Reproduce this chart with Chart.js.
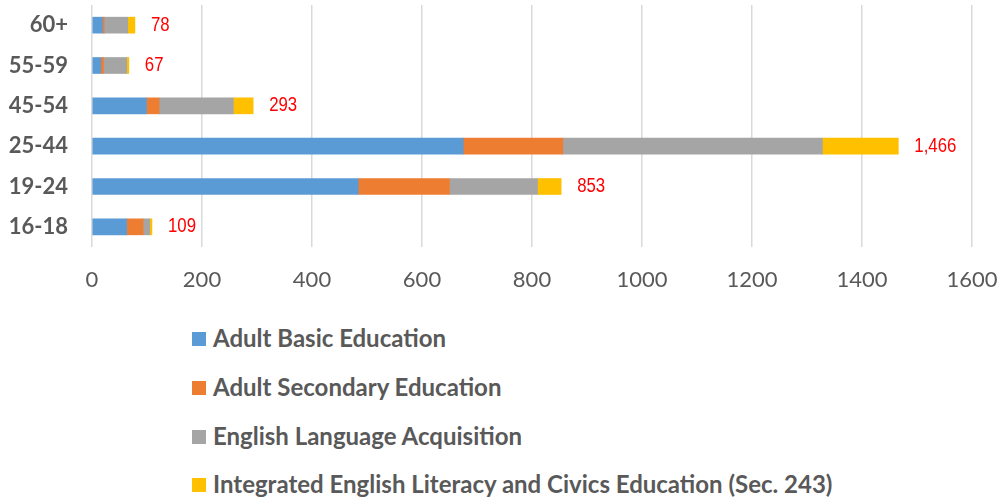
<!DOCTYPE html>
<html>
<head>
<meta charset="utf-8">
<script src="https://cdn.jsdelivr.net/npm/chart.js@4"></script>
<style>
  html, body { margin: 0; padding: 0; background: #fff; }
  #wrap { position: relative; width: 998px; height: 497px; overflow: hidden; }
  #box { position: absolute; left: 0; top: 0; width: 998px; height: 300px; }
  #legend { position: absolute; left: 192px; top: 0; }
  .item { position: absolute; left: 0; white-space: nowrap;
          font: bold 24px Lato, sans-serif; color: #595959; }
  .item span.sw { position: absolute; left: 0; width: 14px; height: 14px; }
  .item span.tx { position: absolute; left: 21px; line-height: 28px; }
</style>
</head>
<body>
<div id="wrap">
  <div id="box"><canvas id="chart"></canvas></div>
  <div id="legend"></div>
</div>
<script>
// age groups, bottom to top
const ageGroups = ['16-18', '19-24', '25-44', '45-54', '55-59', '60+'];

const adultBasic = [63, 484, 675, 99, 16, 19];
const adultSecondary = [30, 166, 181, 23, 5, 3];
const englishLang = [12, 160, 472, 135, 42, 43];
const integratedEng = [4, 43, 138, 36, 4, 13];

const totals = [109, 853, 1466, 293, 67, 78];

const xTicks = [0, 200, 400, 600, 800, 1000, 1200, 1400, 1600];

const seriesNames = [
  'Adult Basic Education',
  'Adult Secondary Education',
  'English Language Acquisition',
  'Integrated English Literacy and Civics Education (Sec. 243)'
];
const seriesColors = ['#5B9BD5', '#ED7D31', '#A5A5A5', '#FFC000'];
const seriesData = [adultBasic, adultSecondary, englishLang, integratedEng];

/* ---- total labels after each bar ---- */
const totalLabels = {
  id: 'totalLabels',
  afterDatasetsDraw(chart) {
    const ctx = chart.ctx;
    const last = chart.getDatasetMeta(chart.data.datasets.length - 1);
    ctx.font = '20px "Liberation Sans Narrow", "Liberation Sans", sans-serif';
    ctx.fillStyle = '#FF0000';
    ctx.textAlign = 'left';
    ctx.textBaseline = 'middle';
    last.data.forEach((bar, i) => {
      // narrow look
      ctx.save();
      ctx.translate(bar.x + 16, bar.y);
      ctx.scale(0.84, 1);
      ctx.fillText(totals[i].toLocaleString('en-US'), 0, 0);
      ctx.restore();
    });
  }
};

new Chart(document.getElementById('chart'), {
  type: 'bar',
  data: {
    labels: ageGroups,
    datasets: seriesData.map((d, i) => ({
      label: seriesNames[i],
      data: d,
      backgroundColor: seriesColors[i],
      barThickness: 16
    }))
  },
  options: {
    indexAxis: 'y',
    responsive: true,
    maintainAspectRatio: false,
    animation: false,
    layout: { padding: { top: 5, right: 26, bottom: 0, left: 0 } },
    plugins: {
      legend: { display: false },
      tooltip: { enabled: false }
    },
    scales: {
      x: {
        stacked: true,
        min: 0,
        max: 1600,
        afterBuildTicks(scale) {
          scale.ticks = xTicks.map(v => ({ value: v }));
        },
        afterFit(scale) {
          scale.height = 53;
          scale.paddingLeft = 0;
          scale.paddingRight = 0;
        },
        grid: { color: '#D9D9D9', lineWidth: 1.5, drawTicks: false },
        border: { display: false },
        ticks: {
          color: '#595959',
          padding: 20,
          maxRotation: 0,
          autoSkip: false,
          font: { family: 'Lato', size: 22 },
          callback: v => String(v)
        }
      },
      y: {
        stacked: true,
        reverse: true,
        afterFit(scale) {
          scale.width = 92;
          scale.paddingTop = 0;
          scale.paddingBottom = 0;
        },
        grid: { display: false, drawTicks: false },
        border: { display: false },
        ticks: {
          color: '#595959',
          padding: 24,
          autoSkip: false,
          font: { family: 'Lato', size: 22, weight: 'bold' }
        }
      }
    }
  },
  plugins: [totalLabels]
});

/* ---- legend, one item per line ---- */
const legend = document.getElementById('legend');
const legendTops = [339, 388, 437, 485];
seriesNames.forEach((name, i) => {
  const item = document.createElement('div');
  item.className = 'item';
  item.style.top = legendTops[i] + 'px';
  item.innerHTML =
    '<span class="sw" style="top:-7px;background:' + seriesColors[i] + '"></span>' +
    '<span class="tx" style="top:-15px">' + name + '</span>';
  legend.appendChild(item);
});
</script>
</body>
</html>
